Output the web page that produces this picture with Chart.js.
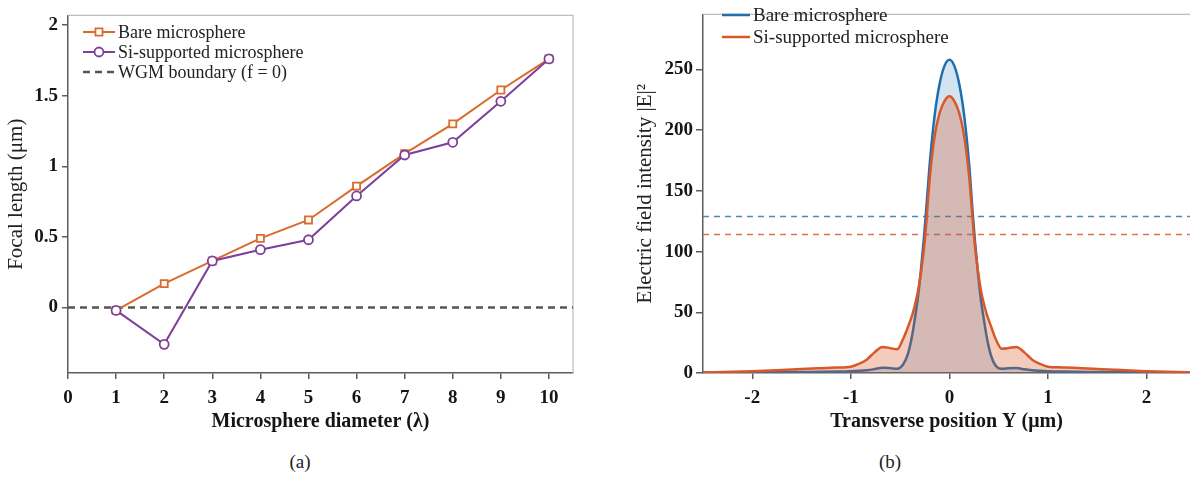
<!DOCTYPE html>
<html>
<head>
<meta charset="utf-8">
<script src="https://cdn.jsdelivr.net/npm/chart.js@4.4.0/dist/chart.umd.min.js"></script>
<style>
  body { margin: 0; background: #fff; width: 1190px; height: 480px; overflow: hidden; position: relative; font-family: "Liberation Serif", "Times New Roman", serif; }
  .panel { position: absolute; top: 0; height: 440px; }
  #wrapA { left: 0; width: 600px; }
  #wrapB { left: 600px; width: 590px; }
  .cap { position: absolute; top: 451px; width: 60px; text-align: center; font-size: 19px; color: #222; }
</style>
</head>
<body>
<div class="panel" id="wrapA"><canvas id="chartA"></canvas></div>
<div class="panel" id="wrapB"><canvas id="chartB"></canvas></div>
<div class="cap" style="left:270px">(a)</div>
<div class="cap" style="left:860px">(b)</div>
<script>
// (a) focal length vs microsphere diameter
const diameters = [1, 2, 3, 4, 5, 6, 7, 8, 9, 10];
const bareFocal = [-0.02, 0.17, 0.33, 0.49, 0.62, 0.86, 1.09, 1.30, 1.54, 1.76];
const siFocal = [-0.02, -0.26, 0.33, 0.41, 0.48, 0.79, 1.08, 1.17, 1.46, 1.76];
const wgmX = [0, 10.5];
const wgmY = [0, 0];
const diameterTicks = [0, 1, 2, 3, 4, 5, 6, 7, 8, 9, 10];
const focalTicks = [0, 0.5, 1, 1.5, 2];

// (b) field intensity profile across the focus
const positionY = [-2.5, -2.2, -2.0, -1.7, -1.5, -1.3, -1.15, -1.0, -0.92, -0.84, -0.76, -0.68, -0.6, -0.53, -0.47, -0.42, -0.38, -0.35, -0.32, -0.29, -0.26, -0.24, -0.2, -0.15, -0.1, -0.05,
  0,
  0.05, 0.1, 0.15, 0.2, 0.24, 0.26, 0.29, 0.32, 0.35, 0.38, 0.42, 0.47, 0.53, 0.6, 0.68, 0.76, 0.84, 0.92, 1.0, 1.15, 1.3, 1.5, 1.7, 2.0, 2.2, 2.5];
const bareIntensity = [0.3, 0.4, 0.5, 0.6, 0.8, 1.0, 1.2, 1.5, 1.8, 2.3, 3.2, 4.3, 4.0, 3.5, 7, 16, 30, 45, 62, 84, 110, 130, 172, 212, 238, 253,
  258,
  253, 238, 212, 172, 128, 108, 82, 60, 44, 29, 15, 6, 3.5, 4.0, 4.2, 3.0, 2.2, 1.8, 1.5, 1.2, 1.0, 0.8, 0.6, 0.5, 0.4, 0.3];
const siIntensity = [0.5, 1.0, 1.5, 2.5, 3.3, 4.0, 4.5, 5.2, 7.5, 11, 17, 21.5, 20.5, 19.5, 28, 38, 47, 56, 67, 82, 101, 118, 160, 195, 214, 224,
  228,
  224, 214, 195, 162, 122, 104, 84, 68, 57, 48, 39, 28, 20, 20.5, 21.5, 17, 11, 7.5, 5.2, 4.6, 4.2, 3.2, 2.6, 1.5, 1.0, 0.5];
const halfX = [-2.5, 2.5];
const bareHalf = [129, 129];
const siHalf = [114, 114];
const positionTicks = [-2, -1, 0, 1, 2];
const intensityTicks = [0, 50, 100, 150, 200, 250];

const serif = '"Liberation Serif", "Times New Roman", serif';
const axisColor = '#5c5c5c';
const tickFont = { family: serif, size: 19, weight: 'bold' };

const pairs = (xs, ys) => xs.map((x, i) => ({ x: x, y: ys[i] }));
const useTicks = list => scale => { scale.ticks = list.map(v => ({ value: v })); };

// light box line along the top (and right) of the plot area
const frame = {
  id: 'frame',
  beforeDatasetsDraw(chart, args, opts) {
    const { ctx, chartArea: a } = chart;
    ctx.save();
    ctx.strokeStyle = '#bdbdbd';
    ctx.lineWidth = 1.2;
    ctx.beginPath();
    ctx.moveTo(a.left, a.top);
    ctx.lineTo(a.right, a.top);
    if (opts.right) ctx.lineTo(a.right, a.bottom);
    ctx.stroke();
    ctx.restore();
  }
};

// legend drawn inside the plot, top-left
const insideLegend = {
  id: 'insideLegend',
  afterDatasetsDraw(chart, args, opts) {
    const ctx = chart.ctx;
    let y = opts.y;
    ctx.save();
    chart.data.datasets.forEach(ds => {
      if (!ds.inLegend) return;
      ctx.strokeStyle = ds.borderColor;
      ctx.lineWidth = ds.borderWidth;
      ctx.setLineDash(ds.borderDash || []);
      ctx.beginPath();
      ctx.moveTo(opts.x, y);
      ctx.lineTo(opts.x + opts.w, y);
      ctx.stroke();
      ctx.setLineDash([]);
      if (ds.pointRadius > 0) {
        ctx.fillStyle = ds.pointBackgroundColor;
        ctx.lineWidth = ds.pointBorderWidth;
        Chart.helpers.drawPoint(ctx, { pointStyle: ds.pointStyle, radius: ds.pointRadius, borderWidth: ds.pointBorderWidth, rotation: 0 }, opts.x + opts.w / 2, y);
      }
      ctx.fillStyle = '#222';
      ctx.font = opts.size + 'px ' + serif;
      ctx.textBaseline = 'middle';
      ctx.fillText(ds.label, opts.x + opts.w + 3, y + 1);
      y += opts.gap;
    });
    ctx.restore();
  }
};

const baseScale = {
  type: 'linear',
  ticks: { font: tickFont, color: '#151515', callback: v => String(v) },
  grid: { drawOnChartArea: false, tickLength: 6, color: axisColor, lineWidth: 1.5 },
  border: { color: axisColor, width: 1.5 }
};

new Chart(document.getElementById('chartA'), {
  type: 'line',
  data: {
    datasets: [
      {
        label: 'Bare microsphere', inLegend: true, order: 2,
        data: pairs(diameters, bareFocal),
        borderColor: '#dc6a2c', borderWidth: 2, tension: 0,
        pointStyle: 'rect', pointRadius: 5, pointBorderWidth: 1.8, pointBackgroundColor: '#fff', pointBorderColor: '#dc6a2c'
      },
      {
        label: 'Si-supported microsphere', inLegend: true, order: 1,
        data: pairs(diameters, siFocal),
        borderColor: '#7d3f9b', borderWidth: 2, tension: 0,
        pointStyle: 'circle', pointRadius: 4.5, pointBorderWidth: 1.8, pointBackgroundColor: '#fff', pointBorderColor: '#7d3f9b'
      },
      {
        label: 'WGM boundary (f = 0)', inLegend: true, order: 3,
        data: pairs(wgmX, wgmY),
        borderColor: '#555', borderWidth: 2.5, borderDash: [7, 5], pointRadius: 0
      }
    ]
  },
  options: {
    responsive: true, maintainAspectRatio: false, animation: false,
    layout: { padding: { top: 7, right: 27, left: 0, bottom: 0 } },
    plugins: {
      legend: { display: false }, tooltip: { enabled: false },
      frame: { right: true },
      insideLegend: { x: 83, y: 32, w: 32, gap: 20, size: 18 }
    },
    scales: {
      x: Object.assign({}, baseScale, {
        min: 0, max: 10.5,
        afterBuildTicks: useTicks(diameterTicks),
        afterFit: s => { s.height = 67; },
        ticks: Object.assign({}, baseScale.ticks, { padding: 8, maxRotation: 0 }),
        title: { display: true, text: 'Microsphere diameter (λ)', color: '#151515', font: { family: serif, size: 20, weight: 'bold' }, padding: { top: 0, bottom: 6 } }
      }),
      y: Object.assign({}, baseScale, {
        min: -0.463, max: 2.068,
        afterBuildTicks: useTicks(focalTicks),
        afterFit: s => { s.width = 68; },
        ticks: Object.assign({}, baseScale.ticks, { padding: 4 }),
        title: { display: true, text: 'Focal length (μm)', color: '#222', font: { family: serif, size: 21 }, padding: { top: 4, bottom: 0 } }
      })
    }
  },
  plugins: [frame, insideLegend]
});

new Chart(document.getElementById('chartB'), {
  type: 'line',
  data: {
    datasets: [
      {
        label: 'Bare microsphere', inLegend: true, order: 2,
        data: pairs(positionY, bareIntensity),
        borderColor: '#1f6fae', borderWidth: 2.5, pointRadius: 0,
        cubicInterpolationMode: 'monotone',
        fill: 'origin', backgroundColor: 'rgba(31,119,180,0.2)'
      },
      {
        label: 'Si-supported microsphere', inLegend: true, order: 1,
        data: pairs(positionY, siIntensity),
        borderColor: '#d9582a', borderWidth: 2.5, pointRadius: 0,
        cubicInterpolationMode: 'monotone',
        fill: 'origin', backgroundColor: 'rgba(216,85,40,0.3)'
      },
      {
        label: 'Bare half maximum', order: 3,
        data: pairs(halfX, bareHalf),
        borderColor: '#4a8db5', borderWidth: 1.5, borderDash: [6, 5], pointRadius: 0
      },
      {
        label: 'Si-supported half maximum', order: 3,
        data: pairs(halfX, siHalf),
        borderColor: '#e0734f', borderWidth: 1.5, borderDash: [6, 5], pointRadius: 0
      }
    ]
  },
  options: {
    responsive: true, maintainAspectRatio: false, animation: false,
    layout: { padding: { top: 7, right: 0, left: 29, bottom: 0 } },
    plugins: {
      legend: { display: false }, tooltip: { enabled: false },
      frame: { right: false },
      insideLegend: { x: 122, y: 15, w: 28, gap: 22, size: 19 }
    },
    scales: {
      x: Object.assign({}, baseScale, {
        min: -2.5, max: 2.441,
        afterBuildTicks: useTicks(positionTicks),
        afterFit: s => { s.height = 67; },
        ticks: Object.assign({}, baseScale.ticks, { padding: 8, maxRotation: 0 }),
        title: { display: true, text: 'Transverse position Y (μm)', color: '#151515', font: { family: serif, size: 20, weight: 'bold' }, padding: { top: 0, bottom: 6 } }
      }),
      y: Object.assign({}, baseScale, {
        min: 0, max: 295.4,
        afterBuildTicks: useTicks(intensityTicks),
        afterFit: s => { s.width = 74; },
        ticks: Object.assign({}, baseScale.ticks, { padding: 3 }),
        grid: Object.assign({}, baseScale.grid, { tickLength: 7 }),
        title: { display: true, text: 'Electric field intensity |E|²', color: '#222', font: { family: serif, size: 21 }, padding: { top: 4, bottom: 0 } }
      })
    }
  },
  plugins: [frame, insideLegend]
});
</script>
</body>
</html>
